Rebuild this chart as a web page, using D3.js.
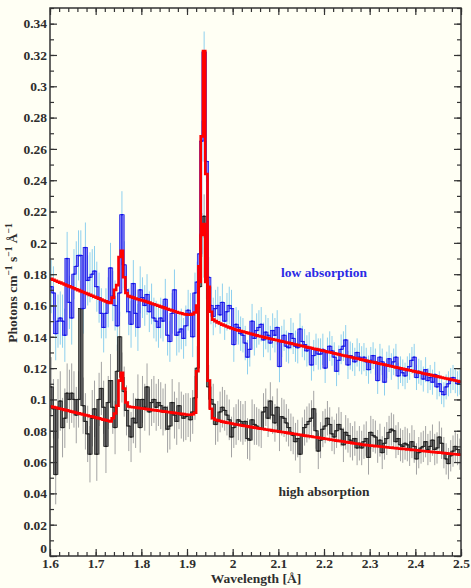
<!DOCTYPE html>
<html>
<head>
<meta charset="utf-8">
<script src="https://cdn.jsdelivr.net/npm/d3@7"></script>
<style>
  html, body { margin: 0; padding: 0; background: #fffff4; }
  svg { display: block; }
</style>
</head>
<body>
<svg id="chart" width="471" height="588"></svg>
<script>
// Spectral grid: 180 bins of 0.005 Å starting at 1.6 Å
const binStart = 1.6;
const binWidth = 0.005;

// Measured flux, low absorption state (photons cm^-1 s^-1 Å^-1)
const lowFlux = [
  0.172,0.168,0.142,0.150,0.152,0.150,0.141,0.190,0.162,0.152,
  0.180,0.185,0.192,0.192,0.158,0.197,0.176,0.178,0.180,0.182,
  0.172,0.165,0.155,0.146,0.155,0.162,0.184,0.166,0.160,0.147,
  0.168,0.218,0.186,0.170,0.156,0.148,0.174,0.155,0.146,0.170,
  0.165,0.160,0.167,0.156,0.161,0.152,0.150,0.146,0.152,0.150,
  0.164,0.141,0.137,0.155,0.170,0.141,0.143,0.145,0.139,0.147,
  0.157,0.155,0.140,0.168,0.175,0.193,0.265,0.322,0.252,0.178,
  0.160,0.153,0.158,0.160,0.154,0.162,0.150,0.156,0.160,0.158,
  0.135,0.148,0.146,0.142,0.141,0.136,0.127,0.132,0.150,0.139,
  0.144,0.146,0.148,0.138,0.143,0.141,0.136,0.144,0.141,0.146,
  0.121,0.137,0.141,0.134,0.133,0.142,0.139,0.134,0.133,0.145,
  0.137,0.135,0.131,0.133,0.122,0.128,0.132,0.129,0.129,0.132,
  0.120,0.130,0.134,0.131,0.127,0.118,0.125,0.132,0.134,0.138,
  0.122,0.128,0.127,0.124,0.130,0.127,0.125,0.127,0.124,0.119,
  0.125,0.128,0.124,0.112,0.127,0.124,0.111,0.122,0.126,0.121,
  0.124,0.127,0.115,0.119,0.117,0.115,0.119,0.121,0.125,0.127,
  0.114,0.118,0.117,0.113,0.119,0.112,0.114,0.111,0.116,0.108,
  0.110,0.105,0.103,0.108,0.110,0.112,0.114,0.112,0.110,0.111
];

// Fitted model, low absorption state
const lowModel = [
  0.1770,0.1764,0.1758,0.1752,0.1746,0.1740,0.1734,0.1728,0.1722,0.1716,
  0.1710,0.1704,0.1698,0.1692,0.1686,0.1680,0.1674,0.1668,0.1662,0.1656,
  0.1650,0.1644,0.1638,0.1632,0.1626,0.1620,0.1616,0.1650,0.1700,0.1730,
  0.1910,0.1950,0.1780,0.1680,0.1660,0.1655,0.1650,0.1645,0.1640,0.1636,
  0.1632,0.1628,0.1623,0.1618,0.1613,0.1608,0.1603,0.1598,0.1593,0.1588,
  0.1583,0.1578,0.1573,0.1568,0.1563,0.1558,0.1554,0.1550,0.1546,0.1543,
  0.1541,0.1541,0.1545,0.1555,0.1600,0.1850,0.2680,0.3225,0.2440,0.1720,
  0.1560,0.1510,0.1500,0.1492,0.1485,0.1478,0.1472,0.1466,0.1460,0.1455,
  0.1450,0.1445,0.1441,0.1437,0.1433,0.1429,0.1425,0.1421,0.1417,0.1413,
  0.1409,0.1405,0.1402,0.1398,0.1395,0.1391,0.1388,0.1384,0.1381,0.1378,
  0.1374,0.1371,0.1368,0.1364,0.1361,0.1358,0.1354,0.1351,0.1348,0.1344,
  0.1341,0.1338,0.1334,0.1331,0.1328,0.1324,0.1321,0.1318,0.1314,0.1311,
  0.1308,0.1304,0.1301,0.1298,0.1294,0.1291,0.1288,0.1284,0.1281,0.1278,
  0.1274,0.1271,0.1268,0.1264,0.1261,0.1258,0.1254,0.1251,0.1248,0.1244,
  0.1241,0.1238,0.1235,0.1231,0.1228,0.1225,0.1222,0.1218,0.1215,0.1212,
  0.1209,0.1205,0.1202,0.1199,0.1196,0.1192,0.1189,0.1186,0.1183,0.1179,
  0.1176,0.1173,0.1170,0.1166,0.1163,0.1160,0.1157,0.1153,0.1150,0.1147,
  0.1144,0.1140,0.1137,0.1134,0.1131,0.1127,0.1124,0.1121,0.1118,0.1114
];

// Measured flux, high absorption state
const highFlux = [
  0.108,0.094,0.052,0.094,0.099,0.082,0.088,0.104,0.100,0.104,
  0.100,0.090,0.100,0.158,0.096,0.086,0.078,0.065,0.088,0.094,
  0.065,0.100,0.107,0.095,0.070,0.098,0.112,0.095,0.082,0.118,
  0.140,0.114,0.105,0.093,0.083,0.076,0.088,0.085,0.100,0.082,
  0.100,0.095,0.108,0.092,0.098,0.100,0.095,0.098,0.096,0.092,
  0.095,0.081,0.083,0.098,0.090,0.086,0.096,0.090,0.088,0.089,
  0.090,0.087,0.092,0.101,0.120,0.172,0.205,0.217,0.178,0.108,
  0.100,0.097,0.084,0.086,0.092,0.095,0.093,0.090,0.087,0.076,
  0.082,0.084,0.087,0.086,0.084,0.086,0.075,0.074,0.087,0.084,
  0.083,0.082,0.081,0.092,0.095,0.088,0.099,0.090,0.085,0.095,
  0.079,0.089,0.088,0.085,0.082,0.079,0.077,0.073,0.075,0.065,
  0.077,0.082,0.084,0.086,0.088,0.094,0.080,0.067,0.074,0.081,
  0.083,0.088,0.084,0.078,0.076,0.080,0.084,0.081,0.071,0.079,
  0.077,0.074,0.072,0.075,0.069,0.072,0.069,0.073,0.075,0.063,
  0.079,0.077,0.076,0.070,0.074,0.066,0.072,0.075,0.079,0.081,
  0.080,0.073,0.075,0.071,0.070,0.072,0.071,0.068,0.073,0.070,
  0.062,0.066,0.069,0.070,0.073,0.068,0.070,0.074,0.068,0.069,
  0.076,0.072,0.066,0.062,0.059,0.064,0.067,0.070,0.068,0.065
];

// Fitted model, high absorption state
const highModel = [
  0.0955,0.0951,0.0948,0.0944,0.0940,0.0937,0.0933,0.0930,0.0926,0.0922,
  0.0919,0.0915,0.0911,0.0908,0.0904,0.0900,0.0897,0.0893,0.0890,0.0886,
  0.0882,0.0879,0.0875,0.0871,0.0868,0.0864,0.0860,0.0880,0.0910,0.0960,
  0.1120,0.1170,0.1070,0.0980,0.0955,0.0952,0.0950,0.0948,0.0946,0.0944,
  0.0942,0.0940,0.0938,0.0936,0.0934,0.0932,0.0930,0.0928,0.0926,0.0924,
  0.0922,0.0920,0.0918,0.0916,0.0914,0.0912,0.0910,0.0908,0.0906,0.0904,
  0.0902,0.0902,0.0905,0.0915,0.1180,0.1750,0.2050,0.2120,0.1750,0.1120,
  0.0940,0.0880,0.0870,0.0866,0.0862,0.0858,0.0855,0.0852,0.0849,0.0846,
  0.0843,0.0840,0.0838,0.0835,0.0833,0.0830,0.0828,0.0825,0.0823,0.0820,
  0.0818,0.0815,0.0813,0.0811,0.0808,0.0806,0.0804,0.0801,0.0799,0.0797,
  0.0795,0.0792,0.0790,0.0788,0.0785,0.0783,0.0781,0.0779,0.0776,0.0774,
  0.0772,0.0769,0.0767,0.0765,0.0763,0.0760,0.0758,0.0756,0.0753,0.0751,
  0.0749,0.0747,0.0744,0.0742,0.0740,0.0737,0.0735,0.0733,0.0731,0.0728,
  0.0726,0.0724,0.0721,0.0719,0.0717,0.0715,0.0712,0.0710,0.0708,0.0707,
  0.0705,0.0704,0.0702,0.0701,0.0699,0.0698,0.0696,0.0695,0.0693,0.0692,
  0.0690,0.0689,0.0687,0.0686,0.0684,0.0683,0.0681,0.0680,0.0678,0.0677,
  0.0675,0.0674,0.0672,0.0671,0.0669,0.0668,0.0666,0.0665,0.0663,0.0662,
  0.0660,0.0659,0.0657,0.0656,0.0654,0.0653,0.0651,0.0650,0.0648,0.0647
];

// 1-sigma uncertainties, one value per 0.05 Å stretch
const errStretch = 0.05;
const lowErr  = [0.017,0.016,0.016,0.015,0.013,0.013,0.013,0.012,0.011,0.011,0.010,0.010,0.0095,0.009,0.0085,0.0085,0.008,0.008];
const highErr = [0.019,0.018,0.017,0.016,0.015,0.015,0.014,0.013,0.013,0.012,0.012,0.0115,0.011,0.011,0.0105,0.0105,0.010,0.010];

const xTickLabels = ["1.6","1.7","1.8","1.9","2","2.1","2.2","2.3","2.4","2.5"];
const yTickLabels = ["0","0.02","0.04","0.06","0.08","0.1","0.12","0.14","0.16","0.18","0.2",
                     "0.22","0.24","0.26","0.28","0.3","0.32","0.34"];

// ---- layout ----
const plotL = 50, plotR = 461, plotT = 8, plotB = 556;
const FONT = "'Liberation Serif', 'Times New Roman', serif";
const FS = "13.5px";
const TEXT = "#2e2e2e";

const x = d3.scaleLinear().domain([1.6, 2.5]).range([plotL, plotR]);
const y = d3.scaleLinear().domain([0, 0.35]).range([plotB, plotT]);

const svg = d3.select("#chart");
svg.append("rect").attr("width", 471).attr("height", 588).attr("fill", "#fffff4");

svg.append("defs").append("clipPath").attr("id", "plotClip")
  .append("rect").attr("x", plotL).attr("y", plotT)
  .attr("width", plotR - plotL).attr("height", plotB - plotT);

const plot = svg.append("g").attr("clip-path", "url(#plotClip)");

const binLo = i => binStart + binWidth * i;
const binHi = i => binStart + binWidth * (i + 1);

function bins(values, errs) {
  return values.map((v, i) => {
    const mid = (binLo(i) + binHi(i)) / 2;
    const e = errs[Math.min(errs.length - 1, Math.floor((mid - binStart) / errStretch))];
    return { i, v, e, x0: binLo(i), x1: binHi(i), xm: mid };
  });
}

function drawErrors(data, color) {
  plot.append("g").selectAll("line").data(data).join("line")
    .attr("x1", d => x(d.xm)).attr("x2", d => x(d.xm))
    .attr("y1", d => y(d.v - d.e)).attr("y2", d => y(d.v + d.e))
    .attr("stroke", color).attr("stroke-width", 1);
}

function drawHistogram(data, edge, fill) {
  const g = plot.append("g");
  // vertical risers between neighbouring bins, drawn as narrow outlined bars
  const risers = data.slice(1).map((d, k) => ({
    xe: d.x0, a: Math.min(d.v, data[k].v), b: Math.max(d.v, data[k].v)
  }));
  g.selectAll("rect").data(risers).join("rect")
    .attr("x", d => x(d.xe) - 1.1).attr("width", 2.2)
    .attr("y", d => y(d.b)).attr("height", d => Math.max(0.6, y(d.a) - y(d.b)))
    .attr("fill", fill).attr("stroke", edge).attr("stroke-width", 0.7);
  // flat bin tops
  g.selectAll("line").data(data).join("line")
    .attr("x1", d => x(d.x0)).attr("x2", d => x(d.x1))
    .attr("y1", d => y(d.v)).attr("y2", d => y(d.v))
    .attr("stroke", edge).attr("stroke-width", 1.3);
}

function drawModel(values) {
  const pts = values.map((v, i) => [binLo(i), v]);
  pts.push([binHi(values.length - 1), values[values.length - 1]]);
  const line = d3.line().x(d => x(d[0])).y(d => y(d[1])).curve(d3.curveStepAfter);
  plot.append("path").attr("d", line(pts))
    .attr("fill", "none").attr("stroke", "#ff0000")
    .attr("stroke-width", 2.6).attr("stroke-linejoin", "miter");
}

const highBins = bins(highFlux, highErr);
const lowBins = bins(lowFlux, lowErr);

drawErrors(highBins, "#a3a3a3");
drawErrors(lowBins, "#8ed0ee");
drawHistogram(highBins, "#1c1c1c", "#6f6f6f");
drawHistogram(lowBins, "#1010e8", "#8282f4");
drawModel(highModel);
drawModel(lowModel);

// ---- axes (ticks point inward on all four sides) ----
const xMajor = xTickLabels.map(Number);
const yMajor = yTickLabels.map(Number);
const xMinor = d3.range(46).map(k => 1.6 + 0.02 * k);
const yMinor = d3.range(36).map(k => 0.01 * k);

function styleAxis(g) {
  g.select(".domain").remove();
  g.selectAll(".tick line").attr("stroke", "#333").attr("stroke-width", 1.2);
  g.selectAll("text").attr("font-family", FONT).attr("font-weight", "bold")
    .attr("font-size", FS).attr("fill", TEXT);
}

// bottom
svg.append("g").attr("transform", `translate(0,${plotB})`)
  .call(d3.axisBottom(x).tickValues(xMinor).tickSize(-4).tickFormat(""))
  .call(styleAxis);
svg.append("g").attr("transform", `translate(0,${plotB})`)
  .call(d3.axisBottom(x).tickValues(xMajor).tickSize(-7).tickPadding(2)
        .tickFormat((d, i) => xTickLabels[i]))
  .call(styleAxis);
// top
svg.append("g").attr("transform", `translate(0,${plotT})`)
  .call(d3.axisTop(x).tickValues(xMinor).tickSize(-4).tickFormat(""))
  .call(styleAxis);
svg.append("g").attr("transform", `translate(0,${plotT})`)
  .call(d3.axisTop(x).tickValues(xMajor).tickSize(-7).tickFormat(""))
  .call(styleAxis);
// left
svg.append("g").attr("transform", `translate(${plotL},0)`)
  .call(d3.axisLeft(y).tickValues(yMinor).tickSize(-4).tickFormat(""))
  .call(styleAxis);
const yAxisG = svg.append("g").attr("transform", `translate(${plotL},0)`)
  .call(d3.axisLeft(y).tickValues(yMajor).tickSize(-7).tickPadding(3)
        .tickFormat((d, i) => yTickLabels[i]))
  .call(styleAxis);
// lift the zero label clear of the corner
yAxisG.selectAll(".tick text").filter(d => d === 0).attr("dy", "-0.28em");
// right
svg.append("g").attr("transform", `translate(${plotR},0)`)
  .call(d3.axisRight(y).tickValues(yMinor).tickSize(-4).tickFormat(""))
  .call(styleAxis);
svg.append("g").attr("transform", `translate(${plotR},0)`)
  .call(d3.axisRight(y).tickValues(yMajor).tickSize(-7).tickFormat(""))
  .call(styleAxis);

// frame
svg.append("rect").attr("x", plotL).attr("y", plotT)
  .attr("width", plotR - plotL).attr("height", plotB - plotT)
  .attr("fill", "none").attr("stroke", "#333").attr("stroke-width", 1.5);

// ---- titles ----
svg.append("text").attr("x", 256).attr("y", 583).attr("text-anchor", "middle")
  .attr("font-family", FONT).attr("font-weight", "bold").attr("font-size", FS)
  .attr("fill", TEXT).text("Wavelength [Å]");

const yTitle = svg.append("text")
  .attr("transform", "translate(17,283) rotate(-90)")
  .attr("text-anchor", "middle")
  .attr("font-family", FONT).attr("font-weight", "bold").attr("font-size", FS)
  .attr("fill", TEXT);
[["Photons cm", false], ["−1", true], [" s", false], ["−1", true], [" Å", false], ["−1", true]]
  .forEach(([t, sup]) => {
    const ts = yTitle.append("tspan").text(t);
    if (sup) ts.attr("font-size", "9.5px").attr("baseline-shift", "super");
  });

svg.append("text").attr("x", 324).attr("y", 277).attr("text-anchor", "middle")
  .attr("font-family", FONT).attr("font-weight", "bold").attr("font-size", FS)
  .attr("fill", "#2a2ae6").text("low absorption");
svg.append("text").attr("x", 324).attr("y", 496).attr("text-anchor", "middle")
  .attr("font-family", FONT).attr("font-weight", "bold").attr("font-size", FS)
  .attr("fill", TEXT).text("high absorption");
</script>
</body>
</html>
